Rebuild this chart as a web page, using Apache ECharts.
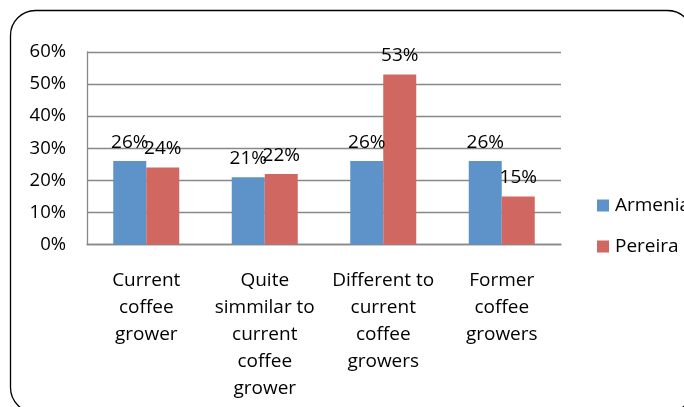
<!DOCTYPE html>
<html>
<head>
<meta charset="utf-8">
<script src="https://cdn.jsdelivr.net/npm/echarts@6/dist/echarts.min.js"></script>
<style>
  html, body { margin: 0; padding: 0; background: #fff; }
  #chart { width: 684px; height: 407px; }
</style>
</head>
<body>
<div id="chart"></div>
<script>
// Respondent groups on the category axis
const categories = [
  'Current\ncoffee\ngrower',
  'Quite\nsimmilar to\ncurrent\ncoffee\ngrower',
  'Different to\ncurrent\ncoffee\ngrowers',
  'Former\ncoffee\ngrowers'
];
// Share of respondents (%) per city
const armenia = [26, 21, 26, 26];
const pereira = [24, 22, 53, 15];
const seriesNames = ['Armenia', 'Pereira'];
// Value axis ticks (%)
const yMin = 0, yMax = 60, yStep = 10;

const FONT = 'Open Sans';
const chart = echarts.init(document.getElementById('chart'), null, { renderer: 'canvas' });

const label = {
  show: true,
  position: 'top',
  distance: 9,
  formatter: '{c}%',
  color: '#000',
  fontFamily: FONT,
  fontSize: 19
};

chart.setOption({
  animation: false,
  textStyle: { fontFamily: FONT },
  graphic: [{
    type: 'rect',
    shape: { x: 10.5, y: 10.5, width: 682, height: 402, r: 25 },
    style: { fill: 'none', stroke: '#000', lineWidth: 1.3 },
    z: 0
  }],
  grid: { left: 87, right: 123, top: 52, bottom: 162.5, containLabel: false },
  legend: {
    orient: 'vertical',
    left: 592,
    top: 191,
    itemWidth: 12,
    itemHeight: 12,
    itemGap: 22,
    icon: 'rect',
    textStyle: { fontFamily: FONT, fontSize: 19, color: '#000', padding: [0, 0, 0, 1] },
    data: seriesNames
  },
  xAxis: {
    type: 'category',
    data: categories,
    axisLine: { lineStyle: { color: '#888', width: 1.3 } },
    axisTick: { show: false },
    axisLabel: {
      interval: 0,
      margin: 23,
      color: '#000',
      fontFamily: FONT,
      fontSize: 19,
      lineHeight: 27,
      align: 'center'
    }
  },
  yAxis: {
    type: 'value',
    min: yMin,
    max: yMax,
    interval: yStep,
    axisLine: { show: true, lineStyle: { color: '#888', width: 1.3 } },
    axisTick: { show: false },
    splitLine: { lineStyle: { color: '#888', width: 1.3 } },
    axisLabel: {
      margin: 21,
      color: '#000',
      fontFamily: FONT,
      fontSize: 18.5,
      formatter: '{value}%'
    }
  },
  series: [
    {
      name: seriesNames[0],
      type: 'bar',
      data: armenia,
      barWidth: 33,
      barGap: '0%',
      itemStyle: { color: '#5D93C9' },
      label: label
    },
    {
      name: seriesNames[1],
      type: 'bar',
      data: pereira,
      barWidth: 33,
      itemStyle: { color: '#D16761' },
      label: label
    }
  ]
});
</script>
</body>
</html>
